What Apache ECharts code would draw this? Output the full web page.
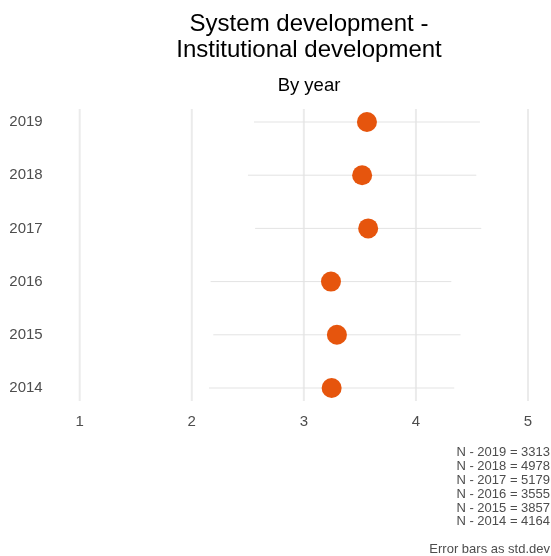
<!DOCTYPE html>
<html>
<head>
<meta charset="utf-8">
<script src="https://cdn.jsdelivr.net/npm/echarts@6/dist/echarts.min.js"></script>
<style>
html,body{margin:0;padding:0;background:#fff;}
#chart{width:551px;height:556px;}
</style>
</head>
<body>
<div id="chart"></div>
<script>
var categories = ['2014', '2015', '2016', '2017', '2018', '2019'];
var means = [3.248, 3.295, 3.242, 3.574, 3.520, 3.563];
var sds = [1.094, 1.103, 1.074, 1.009, 1.019, 1.008];
var xTicks = [1, 2, 3, 4, 5];
var nLines = ['N - 2019 = 3313', 'N - 2018 = 4978', 'N - 2017 = 5179', 'N - 2016 = 3555', 'N - 2015 = 3857', 'N - 2014 = 4164'];
var noteText = 'Error bars as std.dev';

var FONT = 'Liberation Sans, Arial, sans-serif';
var chart = echarts.init(document.getElementById('chart'), null, {renderer: 'canvas'});

var errData = categories.map(function (c, i) { return [i, means[i] - sds[i], means[i] + sds[i]]; });
var pointData = categories.map(function (c, i) { return [means[i], i]; });
var gridData = xTicks.map(function (t) { return [t]; });

var option = {
  backgroundColor: '#ffffff',
  animation: false,
  title: [
    {text: 'System development -\nInstitutional development', left: 304, top: 6, textAlign: 'center',
     textStyle: {fontFamily: FONT, fontSize: 24, fontWeight: 'normal', color: '#000', lineHeight: 26}},
    {text: 'By year', left: 304, top: 71, textAlign: 'center',
     textStyle: {fontFamily: FONT, fontSize: 18.5, fontWeight: 'normal', color: '#000'}}
  ],
  graphic: [
    {type: 'text', right: 1, top: 446, style: {text: nLines.join('\n'), font: '13px ' + FONT, fill: '#4d4d4d', textAlign: 'right', lineHeight: 13.8}},
    {type: 'text', right: 1, top: 543, style: {text: noteText, font: '13px ' + FONT, fill: '#4d4d4d', textAlign: 'right'}}
  ],
  grid: {left: 79.7, right: 23, top: 95.4, height: 319.2, containLabel: false},
  xAxis: {
    type: 'value', min: 1, max: 5, interval: 1,
    axisLine: {show: false}, axisTick: {show: false}, splitLine: {show: false},
    axisLabel: {fontFamily: FONT, fontSize: 15, color: '#4d4d4d', margin: 0}
  },
  yAxis: {
    type: 'category', data: categories, boundaryGap: true,
    axisLine: {show: false}, axisTick: {show: false}, splitLine: {show: false},
    axisLabel: {fontFamily: FONT, fontSize: 15, color: '#4d4d4d', margin: 37, padding: [3, 0, 0, 0]}
  },
  series: [
    {
      type: 'custom', z: 1, silent: true,
      data: gridData,
      encode: {x: 0},
      renderItem: function (params, api) {
        var v = api.value(0);
        var band = api.size([0, 1])[1];
        var top = api.coord([v, categories.length - 1]);
        var bot = api.coord([v, 0]);
        return {type: 'line', shape: {x1: top[0], y1: top[1] - 0.245 * band, x2: bot[0], y2: bot[1] + 0.245 * band},
                style: {stroke: '#ebebeb', lineWidth: 2}};
      }
    },
    {
      type: 'custom', z: 2, silent: true,
      data: errData,
      encode: {y: 0, x: [1, 2]},
      renderItem: function (params, api) {
        var p1 = api.coord([api.value(1), api.value(0)]);
        var p2 = api.coord([api.value(2), api.value(0)]);
        return {type: 'line', shape: {x1: p1[0], y1: p1[1], x2: p2[0], y2: p2[1]},
                style: {stroke: '#e3e3e3', lineWidth: 1}};
      }
    },
    {
      type: 'scatter', z: 3,
      data: pointData,
      symbol: 'circle', symbolSize: 20,
      itemStyle: {color: '#E6550D', opacity: 1}
    }
  ]
};
chart.setOption(option);
</script>
</body>
</html>
